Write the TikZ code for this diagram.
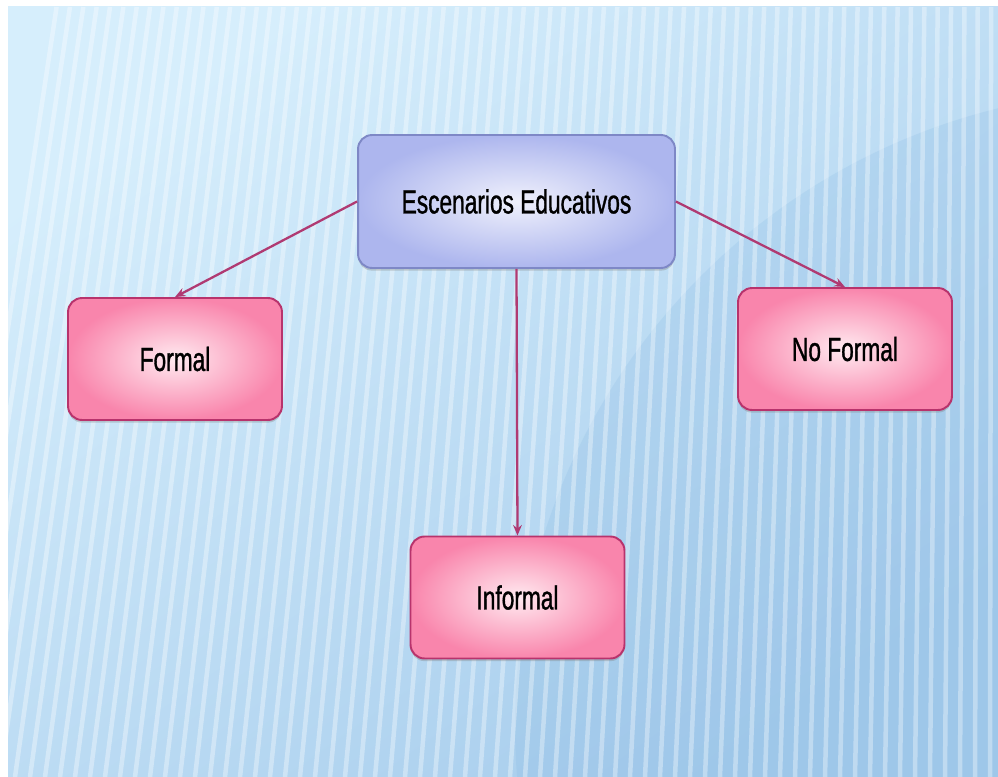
\documentclass[tikz,border=0pt]{standalone}
\usepackage{fontspec}
\usetikzlibrary{positioning}
\usetikzlibrary{arrows.meta}
\usetikzlibrary{graphs}
\usetikzlibrary{shadows}
\newfontfamily\narrowsans[FakeStretch=0.68, FakeBold=1]{Liberation Sans}
\definecolor{eSkyA}{HTML}{D6EEFC}
\definecolor{eSkyD}{HTML}{A6CCEC}
\definecolor{eDeep}{HTML}{7FB2DE}
\definecolor{eLilac}{HTML}{ADB6EE}
\definecolor{eLilacIn}{HTML}{F0F1FC}
\definecolor{eLilacLine}{HTML}{7E88C6}
\definecolor{ePink}{HTML}{F985AC}
\definecolor{ePinkIn}{HTML}{FFEAF0}
\definecolor{ePinkLine}{HTML}{B8336C}
\definecolor{eArrow}{HTML}{B03A72}

\begin{document}
\begin{tikzpicture}[
    x=0.02cm, y=-0.02cm,
    box/.style = {rounded corners=8pt, line width=1.1pt, align=center,
      font=\narrowsans\fontsize{19}{22}\selectfont,
      drop shadow={shadow xshift=0pt, shadow yshift=-1.5pt, opacity=0.35}},
    topbox/.style = {box, draw=eLilacLine, inner color=eLilacIn, outer color=eLilac,
      minimum width=6.34cm, minimum height=2.66cm},
    kindbox/.style = {box, draw=ePinkLine, inner color=ePinkIn, outer color=ePink,
      minimum width=4.28cm, minimum height=2.44cm},
    stripe/.style = {white, opacity=0.35, line width=0.09cm},
    ]

    \useasboundingbox (0,0) rectangle (998,777);
    \fill[white] (0,0) rectangle (998,777);

    % background
    \begin{scope}
      \clip (8,7) rectangle (998,777);
      \shade[top color=eSkyA, bottom color=eSkyD, shading angle=35]
        (8,7) rectangle (998,777);
      \fill[eDeep, opacity=0.18] (1150,725) circle (635);
      \foreach \x in {-60,-45,...,1000} {
        \draw[stripe] (\x,777) -- ({\x+110*(1-\x/1000)},7);
      }
    \end{scope}

    \node[topbox] (esc) at (516.5,201.5) {Escenarios Educativos};
    \node[kindbox] (formal) at (175,359) {Formal};
    \node[kindbox] (noformal) at (845,349) {No Formal};
    \node[kindbox] (informal) at (517.5,597.5) {Informal};

    \graph[edges={color=eArrow, line width=1.3pt, -{Stealth[length=6pt, width=5pt]}}] {
      % root -> kinds
      (esc.west) -> (formal.north),
      (esc.south) -> (informal.north),
      (esc.east) -> (noformal.north),
    };

  \end{tikzpicture}
\end{document}
